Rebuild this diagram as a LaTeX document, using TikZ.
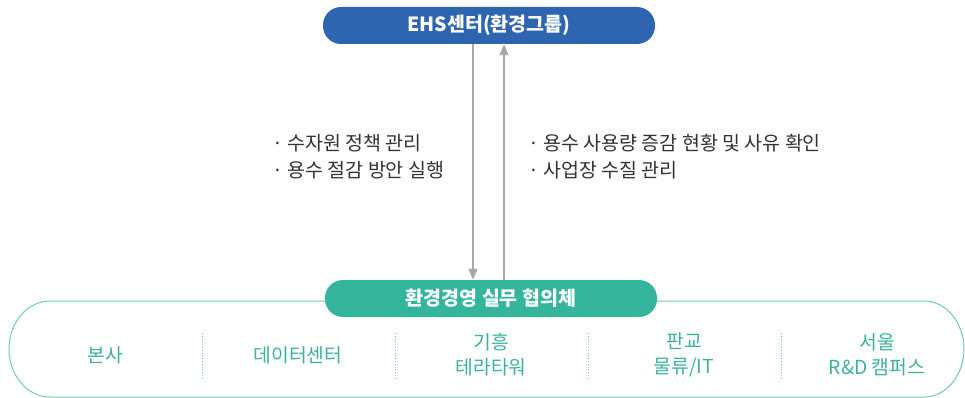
\documentclass[tikz,border=0pt]{standalone}
\usepackage{fontspec}
\setmainfont{Noto Sans CJK KR}
\usetikzlibrary{arrows.meta}
\definecolor{ehsblue}{HTML}{2E65B1}
\definecolor{teal1}{HTML}{35B69C}
\definecolor{teal2}{HTML}{6FCAB6}
\definecolor{teal3}{HTML}{3BB39B}
\definecolor{arrgray}{HTML}{A8A8A8}
\definecolor{txtgray}{HTML}{333333}
\tikzset{
  pill/.style={rounded corners=18pt, minimum width=332pt, minimum height=37pt, inner sep=0pt,
    text=white, font=\fontsize{19.5}{21}\selectfont\bfseries},
  arr/.style={draw=arrgray, line width=1.2pt, -{Triangle[width=9pt,length=11pt]}},
  note/.style={text=txtgray, font=\fontsize{19.5}{27}\selectfont, align=left, anchor=north west, inner sep=0pt},
  site/.style={text=teal3, font=\fontsize{19.3}{25}\selectfont, align=center, inner sep=0pt},
  divider/.style={draw=teal2, line width=0.8pt, dotted},
}
\begin{document}
\begin{tikzpicture}[x=1pt,y=-1pt]
\useasboundingbox (0,0) rectangle (965,398);
% outer stadium
\draw[teal2, line width=1pt] (50,301) -- (924,301)
  .. controls (946,301) and (964,322.5) .. (964,349)
  .. controls (964,375.5) and (946,397) .. (924,397)
  -- (50,397)
  .. controls (27.4,397) and (9,375.5) .. (9,349)
  .. controls (9,322.5) and (27.4,301) .. cycle;
\node[pill, fill=ehsblue] (ehs) at (489,25.5) {EHS센터(환경그룹)};
\node[pill, fill=teal1] (council) at (491,298.5) {환경경영 실무 협의체};
\draw[arr] (ehs.south -| 473,0) -- (council.north -| 473,0);
\draw[arr] (council.north -| 504,0) -- (ehs.south -| 504,0);
\node[note] (down) at (272,134) {· 수자원 정책 관리\\· 용수 절감 방안 실행};
\node[note] (up) at (528,134) {· 용수 사용량 증감 현황 및 사유 확인\\· 사업장 수질 관리};
\node[site] (s1) at (105,355) {본사};
\node[site] (s2) at (298,355) {데이터센터};
\node[site] (s3) at (491,355) {기흥\\테라타워};
\node[site] (s4) at (684,355) {판교\\물류/IT};
\node[site] (s5) at (877,355) {서울\\R\&D 캠퍼스};
\foreach \x in {202,395,588,781} \draw[divider] (\x,333) -- (\x,378);
\end{tikzpicture}
\end{document}
